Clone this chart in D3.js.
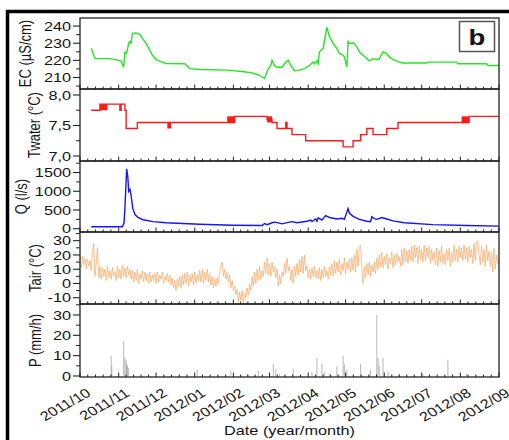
<!DOCTYPE html>
<html><head><meta charset="utf-8">
<script src="https://cdn.jsdelivr.net/npm/d3@7"></script>
<style>
body{margin:0;background:#fff}
svg{display:block}
text{font-family:"Liberation Sans",Arial,sans-serif;fill:#151515}
</style>
</head><body>
<svg id="c" width="509" height="440"></svg>
<script>
// ---------------- DATA ----------------
const monthLabels = ["2011/10","2011/11","2011/12","2012/01","2012/02","2012/03","2012/04","2012/05","2012/06","2012/07","2012/08","2012/09"];
const monthDates  = ["2011-10-01","2011-11-01","2011-12-01","2012-01-01","2012-02-01","2012-03-01","2012-04-01","2012-05-01","2012-06-01","2012-07-01","2012-08-01","2012-09-01"];

const ecDates = ["2011-10-10","2011-10-13","2011-10-25","2011-11-01","2011-11-03","2011-11-05","2011-11-06","2011-11-07","2011-11-08","2011-11-09","2011-11-10","2011-11-11","2011-11-12","2011-11-15","2011-11-18","2011-11-20","2011-11-23","2011-11-26","2011-11-28","2011-12-01","2011-12-04","2011-12-09","2011-12-24","2011-12-28","2012-01-05","2012-01-27","2012-02-08","2012-02-16","2012-02-22","2012-02-26","2012-02-28","2012-02-29","2012-03-02","2012-03-03","2012-03-05","2012-03-07","2012-03-11","2012-03-14","2012-03-16","2012-03-18","2012-03-21","2012-03-25","2012-03-29","2012-04-02","2012-04-05","2012-04-06","2012-04-08","2012-04-09","2012-04-10","2012-04-13","2012-04-14","2012-04-16","2012-04-18","2012-04-21","2012-04-24","2012-04-26","2012-04-29","2012-04-30","2012-05-02","2012-05-03","2012-05-04","2012-05-07","2012-05-10","2012-05-12","2012-05-15","2012-05-18","2012-05-20","2012-05-23","2012-05-26","2012-05-28","2012-05-31","2012-06-03","2012-06-05","2012-06-08","2012-06-13","2012-06-16","2012-07-05","2012-07-06","2012-07-29","2012-07-30","2012-08-22","2012-08-23","2012-09-01"];
const ecValues = [227,221,221,220,219.5,216,224.5,224,226,230,231,230,235.7,236,235,232.8,229.9,226,223,220.5,219.5,218.2,218,215.2,214.7,214.3,213.5,212.7,211.3,209.4,213.3,215.2,217,220,217,216,216,219,220,217,214,214.3,215.2,217,219,218,219.7,218,225,227,231.8,239.2,233.8,229.9,227,224,223,222,216.2,231,229.9,230.3,228,225,223,221,219.7,221,220.5,221,225,224,222,220.5,219,218.5,218.5,219,219,218,218,217,217];

const twDates  = ["2011-10-10","2011-10-17","2011-11-02","2011-11-03","2011-11-06","2011-11-07","2011-11-16","2012-02-02","2012-02-28","2012-03-03","2012-03-07","2012-03-14","2012-03-15","2012-03-19","2012-03-30","2012-04-29","2012-05-07","2012-05-13","2012-05-18","2012-05-23","2012-06-03","2012-06-12","2012-08-08","2012-09-01"];
const twValues = [7.75,7.85,7.75,7.85,7.75,7.45,7.55,7.65,7.60,7.55,7.45,7.55,7.45,7.35,7.25,7.15,7.25,7.35,7.45,7.35,7.45,7.55,7.65,7.65];
// periods of rapid oscillation between two levels
const twBandStart = ["2011-10-17","2011-12-10","2012-01-27","2012-02-28","2012-08-02"];
const twBandEnd   = ["2011-10-23","2011-12-13","2012-02-02","2012-03-03","2012-08-08"];
const twBandLow   = [7.75,7.45,7.55,7.55,7.55];
const twBandHigh  = [7.85,7.55,7.65,7.65,7.65];

const qDates = ["2011-10-10","2011-11-04","2011-11-05T07:00","2011-11-06T02:00","2011-11-07T10:00","2011-11-08T07:00","2011-11-09T02:00","2011-11-10T02:00","2011-11-10T22:00","2011-11-12T07:00","2011-11-14T02:00","2011-11-16T12:00","2011-11-20T12:00","2011-11-28T12:00","2011-12-09","2012-01-05","2012-01-31","2012-02-24","2012-02-26","2012-02-28","2012-03-03","2012-03-05","2012-03-09","2012-03-11","2012-03-17","2012-03-19","2012-03-23","2012-03-31","2012-04-03","2012-04-04","2012-04-07","2012-04-08","2012-04-09","2012-04-12","2012-04-15","2012-04-18","2012-04-24","2012-04-28","2012-04-30","2012-05-02T22:00","2012-05-04","2012-05-07","2012-05-12","2012-05-18","2012-05-21","2012-05-22","2012-05-24","2012-05-26","2012-05-30","2012-06-03","2012-06-08","2012-06-17","2012-07-10","2012-08-06","2012-09-01"];
const qValues = [55,55,150,580,1600,1400,1000,1050,900,550,380,300,240,190,160,120,95,85,140,110,160,175,150,130,175,190,160,200,230,190,260,200,290,230,350,300,260,280,250,540,420,330,250,200,190,320,270,250,300,260,210,160,110,85,70];

const tairStart = "2011-10-01";
const tairDaily = [
 20,11,19,13,18,10,17,12,16,9,
 22,28,5,14,25,4,12,3,11,5,
 10,2,12,4,9,3,11,5,8,2,
 12,4,10,3,13,5,11,4,12,6,
 10,3,9,1,8,2,10,0,7,3,
 9,1,8,2,7,0,8,1,6,2,
 7,0,8,1,6,3,8,0,5,2,
 7,1,6,-1,4,-3,2,-5,3,-2,
 5,-3,6,-1,7,0,8,-2,6,1,
 7,-1,8,0,6,2,9,1,10,0,
 8,2,10,1,7,-1,5,-3,3,-2,
 4,0,8,12,15,5,10,3,8,1,
 6,-3,2,-5,-2,-8,-4,-13,-6,-12,
 -5,-14,-7,-10,-3,-8,0,-5,5,-2,
 8,0,10,2,12,3,9,5,15,7,
 18,6,14,5,15,8,12,4,10,-2,
 6,0,8,5,14,7,18,9,12,2,
 10,0,12,5,14,6,17,8,19,7,
 20,9,12,4,10,3,11,5,12,4,
 9,3,11,2,10,4,12,5,9,3,
 12,6,14,5,16,7,15,8,17,6,
 14,9,18,7,15,10,17,8,18,9,
 20,8,24,12,26,27,10,0,12,4,
 14,6,15,5,13,8,15,7,18,10,
 20,12,22,11,19,13,21,10,18,14,
 22,11,20,13,21,15,19,12,24,13,
 25,15,23,14,24,16,26,15,27,18,
 25,14,26,17,24,15,27,16,25,18,
 26,14,24,16,22,13,25,12,23,15,
 26,14,21,13,24,16,25,12,22,15,
 27,16,24,15,26,18,25,16,27,17,
 25,15,26,18,24,14,28,16,29,30,
 20,13,26,15,24,12,27,16,23,12,
 22,8,25,10,20,14,18];

const pDates  = ["2011-10-26","2011-10-26T12:00","2011-11-05","2011-11-06","2011-11-07","2011-11-07T12:00","2011-11-08","2011-11-09","2012-01-03","2012-01-30","2012-02-12","2012-02-21","2012-03-04","2012-03-06","2012-03-09","2012-03-20","2012-04-04","2012-04-08","2012-04-12","2012-04-14","2012-04-18","2012-04-24","2012-04-29","2012-04-30","2012-05-02","2012-05-13","2012-05-21","2012-05-26","2012-05-27","2012-05-28","2012-05-31","2012-06-04","2012-06-13","2012-07-02","2012-07-22","2012-08-06"];
const pValues = [10,5,17,9,8,6,5,4,3,2.5,1,2.5,6,3.5,1,3.5,2,9,6,2,1,5,10,6,3,6,3,30,9,5,9,2,1,1,8,1];

const ecTicks = [210,220,230,240], ecMinor = [205,215,225,235];
const twTicks = [7.0,7.5,8.0], twTickLabels = ["7,0","7,5","8,0"], twMinor = [7.25,7.75];
const qTicks = [0,500,1000,1500], qMinor = [250,750,1250,1750];
const taTicks = [-10,0,10,20,30], taMinor = [-5,5,15,25,35];
const pTicks = [0,10,20,30], pMinor = [5,15,25,35];

// ---------------- DRAW ----------------
const P = s => new Date(s + (s.length === 10 ? "T00:00Z" : "Z"));
const svg = d3.select("#c");
const L = 80, R = 499;
const SX = 1.25; // horizontal stretch of the original figure's text

svg.append("rect").attr("x",7.5).attr("y",11.5).attr("width",560).attr("height",500)
  .attr("fill","none").attr("stroke","#000").attr("stroke-width",3.5);

const x = d3.scaleUtc().domain([P(monthDates[0]), P(monthDates[monthDates.length-1])]).range([L, R]);

const panels = [
  {top:18, bot:89,  dom:[203.3,244.7], ticks:ecTicks, labels:ecTicks.map(String), minor:ecMinor, title:"EC (µS/cm)", tx:31},
  {top:89, bot:161, dom:[6.918,8.098], ticks:twTicks, labels:twTickLabels, minor:twMinor, title:"Twater (°C)", tx:40},
  {top:161,bot:232, dom:[-87,1808],    ticks:qTicks, labels:qTicks.map(String), minor:qMinor, title:"Q (l/s)", tx:27},
  {top:232,bot:304, dom:[-14.4,36.1],  ticks:taTicks, labels:taTicks.map(String), minor:taMinor, title:"Tair (°C)", tx:41},
  {top:304,bot:377, dom:[-0.5,35.4],   ticks:pTicks, labels:pTicks.map(String), minor:pMinor, title:"P (mm/h)", tx:41}
];

function sText(g, str, px, py, rot, anchor, size, weight){
  return g.append("text").text(str)
    .attr("transform", `translate(${px},${py}) scale(${SX},1)` + (rot ? ` rotate(${rot})` : ""))
    .attr("text-anchor", anchor).attr("font-size", size).attr("font-weight", weight || "normal");
}

// x minor tick positions: 5 per month
const monthD = monthDates.map(P);
const xMinor = [];
for (let i = 0; i < monthD.length-1; i++) {
  for (let k = 1; k < 5; k++) xMinor.push(new Date(+monthD[i] + (monthD[i+1]-monthD[i])*k/5));
}

panels.forEach((p, i) => {
  p.y = d3.scaleLinear().domain(p.dom).range([p.bot, p.top]);
  const g = svg.append("g");
  const cid = "clip"+i;
  svg.append("clipPath").attr("id",cid).append("rect")
    .attr("x",L).attr("y",p.top).attr("width",R-L).attr("height",p.bot-p.top);
  p.plot = g.append("g").attr("clip-path",`url(#${cid})`);
  p.g = g;
});

// EC
{
  const p = panels[0];
  const line = d3.line().x(d=>x(P(d[0]))).y(d=>p.y(d[1]));
  p.plot.append("path").datum(ecDates.map((d,i)=>[d,ecValues[i]]))
    .attr("d",line).attr("fill","none").attr("stroke","#22e622").attr("stroke-width",1.4);
}
// Twater
{
  const p = panels[1];
  p.plot.selectAll("rect.band").data(twBandStart).join("rect")
    .attr("x",(d,i)=>x(P(d))).attr("width",(d,i)=>x(P(twBandEnd[i]))-x(P(d)))
    .attr("y",(d,i)=>p.y(twBandHigh[i])).attr("height",(d,i)=>p.y(twBandLow[i])-p.y(twBandHigh[i]))
    .attr("fill","#ff1a1a");
  const line = d3.line().x(d=>x(P(d[0]))).y(d=>p.y(d[1])).curve(d3.curveStepAfter);
  p.plot.append("path").datum(twDates.map((d,i)=>[d,twValues[i]]))
    .attr("d",line).attr("fill","none").attr("stroke","#ff1a1a").attr("stroke-width",1.4);
}
// Q
{
  const p = panels[2];
  const line = d3.line().x(d=>x(P(d[0]))).y(d=>p.y(d[1]));
  p.plot.append("path").datum(qDates.map((d,i)=>[d,qValues[i]]))
    .attr("d",line).attr("fill","none").attr("stroke","#1414ff").attr("stroke-width",1.4);
}
// Tair
{
  const p = panels[3];
  const t0 = P(tairStart);
  const line = d3.line().x((d,i)=>x(d3.utcDay.offset(t0,i))).y(d=>p.y(d));
  p.plot.append("path").datum(tairDaily)
    .attr("d",line).attr("fill","none").attr("stroke","#f7a35c").attr("stroke-opacity",0.75).attr("stroke-width",0.9);
}
// P
{
  const p = panels[4];
  p.plot.selectAll("line.bar").data(pDates).join("line")
    .attr("x1",d=>x(P(d))).attr("x2",d=>x(P(d)))
    .attr("y1",p.y(0)).attr("y2",(d,i)=>p.y(pValues[i]))
    .attr("stroke","#8a8a8a").attr("stroke-opacity",0.6).attr("stroke-width",1);
}

// axes & frames
panels.forEach((p) => {
  const g = p.g;
  // y ticks
  p.ticks.forEach((t,k) => {
    const yy = p.y(t);
    g.append("line").attr("x1",L-7).attr("x2",L).attr("y1",yy).attr("y2",yy).attr("stroke","#222").attr("stroke-width",1.1);
    sText(g, p.labels[k], L-9, yy+4.6, 0, "end", 13);
  });
  p.minor.forEach(t => {
    const yy = p.y(t);
    if (yy < p.top-0.5 || yy > p.bot+0.5) return;
    g.append("line").attr("x1",L-4).attr("x2",L).attr("y1",yy).attr("y2",yy).attr("stroke","#222").attr("stroke-width",1);
  });
  // x ticks (inward at bottom)
  monthD.forEach(d => {
    g.append("line").attr("x1",x(d)).attr("x2",x(d)).attr("y1",p.bot).attr("y2",p.bot-4.5).attr("stroke","#222").attr("stroke-width",1);
  });
  xMinor.forEach(d => {
    g.append("line").attr("x1",x(d)).attr("x2",x(d)).attr("y1",p.bot).attr("y2",p.bot-2.5).attr("stroke","#222").attr("stroke-width",1);
  });
  g.append("rect").attr("x",L).attr("y",p.top).attr("width",R-L).attr("height",p.bot-p.top)
    .attr("fill","none").attr("stroke","#222").attr("stroke-width",1.3);
  sText(g, p.title, p.tx, (p.top+p.bot)/2, -90, "middle", 13);
});

// x labels
const xg = svg.append("g");
monthD.forEach((d,i) => {
  sText(xg, monthLabels[i], x(d)+12, 395, -35, "end", 13);
});
sText(xg, "Date (year/month)", (L+R)/2, 435, 0, "middle", 13);

// panel tag
const tag = svg.append("g");
tag.append("rect").attr("x",459.5).attr("y",21.5).attr("width",35).attr("height",30)
  .attr("fill","#fff").attr("stroke","#555").attr("stroke-width",1.5);
sText(tag, "b", 477, 45, 0, "middle", 22, "bold");
</script>
</body></html>
